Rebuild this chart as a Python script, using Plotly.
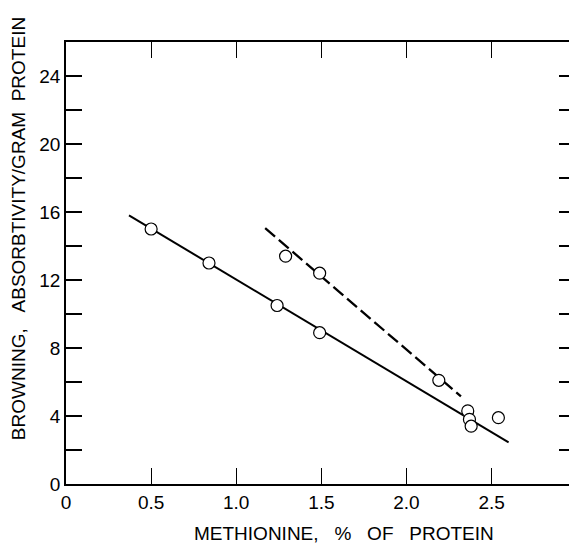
import plotly.graph_objects as go

# Data
solid_pts_x = [0.50, 0.84, 1.24, 1.49, 2.36, 2.37, 2.38, 2.54]
solid_pts_y = [15.0, 13.0, 10.5, 8.9, 4.3, 3.8, 3.4, 3.9]
dash_pts_x = [1.29, 1.49, 2.19]
dash_pts_y = [13.4, 12.4, 6.1]
solid_line_x = [0.37, 2.60]
solid_line_y = [15.8, 2.45]
dash_line_x = [1.17, 2.32]
dash_line_y = [15.05, 5.15]

x_tickvals = [0, 0.5, 1.0, 1.5, 2.0, 2.5]
x_ticktext = ["0", "0.5", "1.0", "1.5", "2.0", "2.5"]
y_tickvals = [0, 2, 4, 6, 8, 10, 12, 14, 16, 18, 20, 22, 24]
y_ticktext = ["0", "", "4", "", "8", "", "12", "", "16", "", "20", "", "24"]

FONT = "Liberation Sans, Arial, sans-serif"

fig = go.Figure()
fig.add_trace(go.Scatter(x=solid_line_x, y=solid_line_y, mode="lines",
                         line=dict(color="black", width=2), showlegend=False))
fig.add_trace(go.Scatter(x=dash_line_x, y=dash_line_y, mode="lines",
                         line=dict(color="black", width=2.3, dash="13px,5px"),
                         showlegend=False))
fig.add_trace(go.Scatter(x=solid_pts_x + dash_pts_x, y=solid_pts_y + dash_pts_y,
                         mode="markers",
                         marker=dict(symbol="circle", size=12, color="white",
                                     line=dict(color="black", width=1.2)),
                         showlegend=False))

# page has an 8px body margin; design in page coords minus 8
OFF = 8
W, H = 577 - OFF, 543 - OFF
L, R, T = 66 - OFF, 0, 42 - OFF
B = H - (484 - OFF)
pw, ph = W - L - R, H - T - B

def px_x(px):
    return (px - OFF - L) / pw

def px_y(py):
    return (H - B - (py - OFF)) / ph

fig.update_layout(
    width=W, height=H,
    margin=dict(l=L, r=R, t=T, b=B, pad=0),
    paper_bgcolor="white", plot_bgcolor="white",
    font=dict(family=FONT, size=19, color="black"),
    xaxis=dict(range=[0, 2.99], tickvals=x_tickvals, ticktext=x_ticktext,
               ticks="inside", ticklen=16, tickwidth=1.2, tickcolor="black",
               showline=True, linecolor="black", linewidth=1.5, mirror="ticks",
               showgrid=False, zeroline=False,
               tickfont=dict(family=FONT, size=19, color="black")),
    yaxis=dict(range=[0, 26], tickvals=y_tickvals, ticktext=y_ticktext,
               ticks="inside", ticklen=16, tickwidth=1.5, tickcolor="black",
               showline=True, linecolor="black", linewidth=1.5, mirror="ticks",
               showgrid=False, zeroline=False,
               tickfont=dict(family=FONT, size=19, color="black")),
    annotations=[
        dict(text="METHIONINE,\u00a0\u00a0\u00a0%\u00a0\u00a0\u00a0OF\u00a0\u00a0\u00a0PROTEIN",
             xref="paper", yref="paper", x=px_x(345), y=px_y(533),
             xanchor="center", yanchor="middle", showarrow=False,
             font=dict(family=FONT, size=19, color="black")),
        dict(text="BROWNING,\u00a0\u00a0\u00a0ABSORBTIVITY/GRAM\u00a0\u00a0PROTEIN",
             xref="paper", yref="paper", x=px_x(18), y=px_y(229),
             xanchor="center", yanchor="middle", textangle=-90, showarrow=False,
             font=dict(family=FONT, size=19, color="black")),
    ],
)

fig.write_html("out.html")
